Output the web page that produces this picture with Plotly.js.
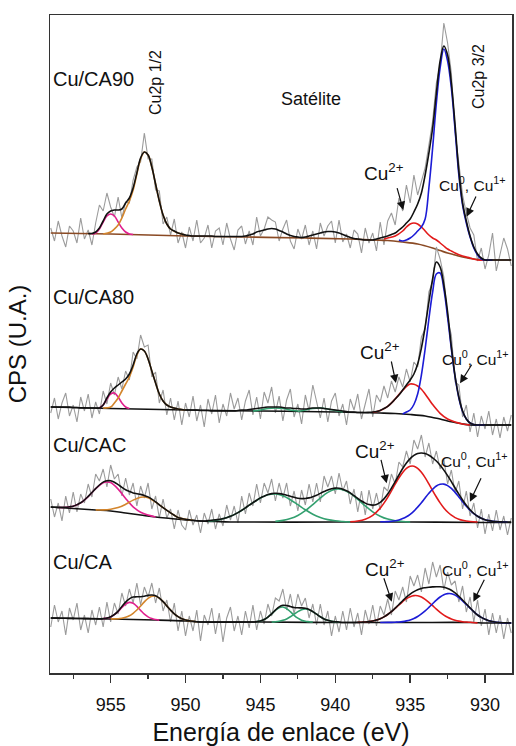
<!DOCTYPE html>
<html><head><meta charset="utf-8">
<script src="https://cdn.plot.ly/plotly-3.0.1.min.js"></script>
<style>html,body{margin:0;padding:0;background:#fff}#chart{width:516px;height:746px}</style>
</head><body><div id="chart"></div>
<script>
// Binding energy grid (eV) for the measured spectra
const energy = [959, 958.75, 958.5, 958.25, 958, 957.75, 957.5, 957.25, 957, 956.75, 956.5, 956.25, 956, 955.75, 955.5, 955.25, 955, 954.75, 954.5, 954.25, 954, 953.75, 953.5, 953.25, 953, 952.75, 952.5, 952.25, 952, 951.75, 951.5, 951.25, 951, 950.75, 950.5, 950.25, 950, 949.75, 949.5, 949.25, 949, 948.75, 948.5, 948.25, 948, 947.75, 947.5, 947.25, 947, 946.75, 946.5, 946.25, 946, 945.75, 945.5, 945.25, 945, 944.75, 944.5, 944.25, 944, 943.75, 943.5, 943.25, 943, 942.75, 942.5, 942.25, 942, 941.75, 941.5, 941.25, 941, 940.75, 940.5, 940.25, 940, 939.75, 939.5, 939.25, 939, 938.75, 938.5, 938.25, 938, 937.75, 937.5, 937.25, 937, 936.75, 936.5, 936.25, 936, 935.75, 935.5, 935.25, 935, 934.75, 934.5, 934.25, 934, 933.75, 933.5, 933.25, 933, 932.75, 932.5, 932.25, 932, 931.75, 931.5, 931.25, 931, 930.75, 930.5, 930.25, 930, 929.75, 929.5, 929.25, 929, 928.75, 928.5, 928.25];

// Measured (noisy) spectra, arbitrary units
const rawCA90 = [5, -8, 12, -3, -14, 7, 2, -10, 15, -6, 3, -12, 10, 28, 22, 40, 26, 16, 36, 15, 31, 30, 53, 66, 71, 100, 74, 74, 43, 42, 9, 16, -2, 14, -10, 1, -15, 6, -8, 13, -10, -5, 8, -15, 2, 5, -12, 10, -6, -17, 3, 7, -11, 2, -12, 16, -3, 4, 16, 13, 11, -8, 4, 13, -8, -16, 4, -6, 8, -12, 2, -16, 10, -3, 7, 12, -10, 13, -9, -1, -15, 3, -1, -20, 5, -10, 0, -18, 11, -12, 12, 20, 8, 35, 22, 48, 30, 58, 38, 52, 65, 88, 112, 150, 168, 210, 190, 160, 100, 70, 38, 20, 5, -2, -28, -15, -36, -22, 0, -38, -20, -5, -16, -33];
const rawCA80 = [-6, 9, -12, 4, 14, -9, 2, -15, 10, -4, 13, -11, 5, -7, 16, 3, 24, 12, 30, 18, 36, 27, 55, 48, 72, 60, 62, 30, 35, 4, 17, -8, 9, -13, 6, -18, 4, -10, 11, -14, 2, -20, 8, -7, 12, -16, 3, -9, 14, -2, 9, -13, 6, 17, -8, 10, -12, 15, 4, 20, -6, 11, -14, 7, 18, -10, 3, -17, 12, -4, 22, 5, -11, 9, -15, 6, 14, -9, 3, -18, 8, -3, 13, -12, 2, 18, -10, 12, 5, 21, 9, 26, 15, 30, 20, 38, 25, 45, 40, 70, 78, 115, 125, 160, 148, 130, 88, 72, 25, 22, -10, 2, -25, -6, -30, -9, -22, -4, -28, -12, -31, -10, -24, -8];
const rawCAC = [8, -10, 4, -14, 11, -6, 15, -5, 13, 4, 23, 10, 33, 26, 38, 20, 42, 28, 33, 11, 29, 12, 24, 1, 21, 9, 24, -2, 11, -11, 8, -11, -2, -22, -3, -18, -23, -3, -18, -8, -26, -6, -17, -2, -22, -7, -19, 2, -13, 1, -16, 11, -7, 14, 1, 23, 4, 24, 14, 28, 6, 24, 9, 24, 1, 16, -4, 17, 2, 23, 5, 24, 5, 31, 20, 31, 13, 34, 16, 26, 3, 18, -5, 16, -8, 17, -2, 14, -3, 20, 16, 33, 23, 45, 40, 56, 43, 67, 58, 72, 50, 64, 43, 56, 38, 48, 23, 37, 14, 26, -2, 16, -9, 4, -21, -2, -27, -7, -24, -3, -23, -9, -28, -11];
const rawCA = [-9, 13, -4, 7, -17, 10, -2, 15, -12, 3, -15, 8, -7, 11, -9, 16, -4, 15, 4, 25, 12, 29, 15, 35, 13, 31, 21, 35, 15, 30, 7, 18, -4, 15, -13, 7, -18, 2, -13, 8, -23, 3, -7, 10, -16, 5, -24, 0, 11, -13, 2, -17, 7, -10, 13, -12, 7, -6, 14, 2, 20, 17, 29, 8, 24, 4, 24, 12, 20, 0, 14, -7, 14, -7, 7, -18, 2, -14, 7, -12, 10, -9, 5, -17, 8, -6, 13, -8, 12, 3, 19, 3, 27, 18, 31, 16, 42, 32, 43, 26, 50, 34, 56, 41, 53, 28, 46, 33, 37, 16, 32, 6, 21, -4, 18, -8, 9, -17, 5, -15, 3, -21, 0, -15];

// Fit envelopes (sum of components) on the same grid
const envCA90 = [null, null, null, null, null, null, null, null, null, null, -0.5, -0.5, 1, 5, 12, 19, 22, 23, 23, 24, 30, 35, 45, 60, 75, 81, 78, 66, 49, 32, 18, 9, 4, 2, 0, -1, -2, -2.5, -3, -3, -3, -3, -3, -3, -3.5, -3.5, -3.5, -3.5, -3.5, -3.5, -3.5, -3.5, -3, -2, -1, 1, 2, 3, 4, 4.5, 4, 2.5, 1, -1, -2.5, -3.5, -4, -4.5, -4, -3, -2, -1, 0, 1, 1.5, 1.5, 1, 0, -1.5, -3, -4.5, -5.5, -6, -6.5, -7, -7, -7, -6, -5, -4, -3, -1.5, 0, 3, 6, 10, 14, 21, 29, 40, 58, 80, 105, 140, 172, 187, 178, 150, 108, 62, 30, 12, -3, -14, -21, -25, -27, -27, -27, -27, -27, -27, -27, -27];
const envCA80 = [0, 0, 0, 0, 0, 0, -0.5, -0.5, -1, -1, -1, -1, -1, -1, 2, 9, 15, 19, 22, 25, 28, 33, 42, 53, 58, 56, 48, 36, 24, 13, 6, 2, 0, -1, -2, -2.5, -3, -3, -3, -3, -3.5, -3.5, -3.5, -4, -4, -4, -4, -4, -4, -4, -3.5, -3, -3, -2.5, -2, -1.5, -1, -0.5, 0, 0, 0, 0, -0.5, -1, -1, -1.5, -1.5, -2, -2, -1.5, -1, -1, -1, -1.5, -2, -2.5, -3, -3.5, -4, -4.5, -5, -5, -5.5, -5.5, -5.5, -5.3, -5, -4.5, -3.5, -1.5, 0.6, 4, 8, 12, 17, 22, 27, 33, 43, 59, 80, 105, 128, 145, 140, 122, 95, 60, 31, 10, -4, -12, -16, -17.5, -18, -18, -18, -18, -18, -18, -18, -18, -18, -18];
const envCAC = [0, -0.3, -0.4, -0.4, -0.3, 0.2, 0.8, 2.3, 4.2, 7, 10.6, 14.5, 18.4, 22, 24.9, 26.2, 26.3, 24.8, 22.3, 19.7, 17.2, 15.5, 14.1, 13.3, 12.6, 11.5, 10.1, 7.8, 5.1, 2.2, -0.7, -3.3, -5.9, -8.3, -10.4, -11.5, -12.3, -12.8, -13.3, -13.7, -14, -14, -13.6, -13.2, -12.9, -12.4, -11.6, -10.7, -9.3, -7.6, -5.6, -3.3, -0.8, 1.8, 4.3, 6.8, 9.1, 10.8, 12.4, 13.4, 13.7, 13.4, 12.8, 11.7, 10.7, 9.7, 8.8, 8.4, 8.5, 9.1, 10.2, 11.7, 13.6, 15.4, 17, 18.2, 18.9, 18.8, 17.8, 16.2, 14.1, 11.3, 8.7, 6, 3.9, 2.4, 1.9, 2.6, 4.7, 8.1, 13, 18.9, 25.3, 32, 38.5, 44.1, 48.4, 51.7, 53.6, 54, 53.5, 51.8, 49.2, 46, 41.8, 36.9, 31.4, 25.4, 19, 12.8, 7, 1.7, -2.8, -6.5, -9.3, -11.3, -12.7, -13.6, -14.2, -14.6, -14.8, -15, -15, -15];
const envCA = [0, -0.1, -0.15, -0.2, -0.3, -0.35, -0.4, -0.45, -0.5, -0.6, -0.65, -0.7, -0.8, -0.85, -0.6, -0.1, 1.2, 3.5, 6.9, 11.5, 15.9, 19.2, 20.9, 21.2, 21.3, 21.8, 22.6, 23, 22.3, 19.9, 16.4, 12.1, 7.9, 4.2, 1.3, -0.7, -1.9, -2.7, -3.3, -3.8, -4, -4, -4, -4, -4, -4, -4, -4, -4, -4, -4, -4, -4, -4, -4, -3.6, -2.9, -1.5, 0.9, 4.1, 7.9, 11.1, 12.7, 12.5, 11.5, 10.5, 10.2, 10.1, 9.7, 8.6, 6.4, 3.8, 1.2, -0.9, -2.3, -3.2, -3.7, -4, -4.5, -4.5, -4.5, -4.5, -4.4, -4.2, -4, -3.6, -3, -2.1, -0.75, 1.1, 3.5, 6.45, 9.9, 13.5, 17.3, 20.9, 23.9, 26.4, 28.3, 29.6, 30.3, 30.8, 31.1, 31.3, 31.2, 30.7, 29.6, 27.8, 25.1, 21.75, 18, 14, 10.1, 6.3, 3, 0.6, -1.3, -2.7, -3.55, -4.2, -4.5, -4.75, -4.9, -5];

// Backgrounds
const bgCA90x = [959, 955, 950, 946, 942, 939, 937.5, 936.5, 935.5, 934.5, 933.5, 933, 932.5, 932, 931.5, 931, 930.5, 930, 929, 928.25];
const bgCA90y = [0, -1, -3, -4, -5, -6, -7, -7.5, -9, -11, -15, -17.5, -20, -22, -24, -25.5, -26.5, -27, -27, -27];
const bgCA80x = [959, 955, 950, 945, 940, 937, 936, 935, 934, 933.5, 933, 932.5, 932, 931.5, 931, 930, 928.25];
const bgCA80y = [0, -1.5, -3, -4, -5, -6, -6.5, -7.5, -9, -10.5, -12, -14, -15.5, -17, -18, -18, -18];
const bgCACx = [959, 958, 957, 956, 955, 954, 953, 952, 951, 950, 949, 948, 947, 940, 935, 930, 928.25];
const bgCACy = [0, -1, -2, -3, -4, -6, -8, -10, -11.5, -13, -14, -14.5, -15, -15, -15, -15.5, -15.5];
const bgCAx = [959, 957, 955, 952, 950, 949, 945, 940, 935, 931, 930, 928.25];
const bgCAy = [0, -0.5, -1, -2, -3, -4, -4, -4.5, -4.5, -4.5, -5, -5];

// Fitted components: Cu/CA90
const ca90PinkX = [956.25, 956, 955.75, 955.5, 955.25, 955, 954.75, 954.5, 954.25, 954, 953.75, 953.5];
const ca90PinkY = [-1, 0, 4, 11, 17, 19, 17, 11, 5, 1, -1, -1.5];
const ca90OrangeX = [955.5, 955, 954.75, 954.5, 954.25, 954, 953.75, 953.5, 953.25, 953, 952.75, 952.5, 952.25, 952, 951.75, 951.5, 951.25, 951, 950.5, 950];
const ca90OrangeY = [-1, 1, 4, 8, 15, 24, 32, 43, 59, 74, 81, 78, 66, 49, 32, 18, 9, 4, 0, -2];
const ca90BlueX = [935.75, 935.5, 935.25, 935, 934.75, 934.5, 934.25, 934, 933.75, 933.5, 933.25, 933, 932.75, 932.5, 932.25, 932, 931.75, 931.5, 931.25, 931, 930.75, 930.5, 930.25, 930, 929.5];
const ca90BlueY = [-7, -8, -7, -5, -2, 2, 6, 14, 45, 85, 130, 165, 184, 172, 145, 103, 58, 28, 10, -4, -15, -22, -26, -27, -27];
const ca90RedX = [936.75, 936.5, 936, 935.5, 935.25, 935, 934.75, 934.5, 934.25, 934, 933.75, 933.5, 933.25, 933, 932.75, 932.5, 932.25, 932, 931.5, 931, 930.5, 930];
const ca90RedY = [-6, -5, -3, 2, 6, 9, 10, 9, 6, 2, -2, -5, -7, -10, -13, -16, -18, -20, -23, -25, -27, -27];

// Cu/CA80
const ca80PinkX = [955.75, 955.5, 955.25, 955, 954.75, 954.5, 954.25, 954, 953.75];
const ca80PinkY = [-1, 2, 8, 13, 14, 10, 4, 0, -1.5];
const ca80OrangeX = [955.5, 955, 954.75, 954.5, 954.25, 954, 953.75, 953.5, 953.25, 953, 952.75, 952.5, 952.25, 952, 951.75, 951.5, 951.25, 951, 950.5, 950];
const ca80OrangeY = [-1, 0, 4, 9, 16, 23, 30, 40, 52, 58, 56, 48, 36, 24, 13, 6, 2, 0, -2, -3];
const ca80Green1X = [945.5, 945, 944.5, 944, 943.5, 943, 942.5];
const ca80Green1Y = [-4, -3, -1.5, -1, -1.5, -3, -4];
const ca80Green2X = [942.5, 942, 941.5, 941, 940.5, 940, 939.5];
const ca80Green2Y = [-4.5, -3, -1.5, -1, -2, -3.5, -5];
const ca80BlueX = [935.5, 935.25, 935, 934.75, 934.5, 934.25, 934, 933.75, 933.5, 933.25, 933, 932.75, 932.5, 932.25, 932, 931.75, 931.5, 931.25, 931, 930.75, 930.5, 930];
const ca80BlueY = [-7, -5, -3, 2.5, 13, 32, 58, 88, 115, 133, 134, 118, 90, 58, 30, 9, -4.5, -12, -16, -17.5, -18, -18];
const ca80RedX = [937.5, 937, 936.5, 936, 935.5, 935, 934.75, 934.5, 934.25, 934, 933.75, 933.5, 933, 932.5, 932, 931.5, 931];
const ca80RedY = [-5.3, -3.5, 0.6, 8, 16.7, 22.9, 22.8, 21, 17.7, 13, 7.7, 2.4, -6.3, -12, -15, -17, -18];

// Cu/CAC
const cacPinkX = [958.5, 958, 957.5, 957, 956.5, 956, 955.5, 955.25, 955, 954.5, 954, 953.5, 953, 952.5, 952];
const cacPinkY = [-0.5, -0.3, 0.8, 4.1, 10.4, 18.3, 24.3, 25, 24.5, 17.9, 8.5, 0.2, -5.2, -8.1, -10];
const cacOrangeX = [956, 955.5, 955, 954.5, 954, 953.5, 953, 952.75, 952.5, 952, 951.5, 951, 950.5, 950, 949.5];
const cacOrangeY = [-2.9, -2.9, -2.2, -0.6, 2.7, 6.9, 9.8, 10, 9.2, 4.9, -0.7, -5.9, -10.4, -12.3, -13.3];
const cacGreen1X = [948.5, 948, 947.5, 947, 946.5, 946, 945.5, 945, 944.5, 944, 943.5, 943, 942.5, 942, 941.5, 941, 940.5, 940, 939.5, 939];
const cacGreen1Y = [-14, -13.4, -11.8, -9.3, -5.6, -0.8, 4.3, 9, 12.2, 13, 11.2, 7.3, 2.3, -2.8, -7.2, -10.4, -12.6, -13.8, -14.5, -15];
const cacGreen2X = [944, 943.5, 943, 942.5, 942, 941.5, 941, 940.5, 940, 939.5, 939, 938.5, 938, 937.5, 937, 936.5, 936, 935.5, 935];
const cacGreen2Y = [-14.4, -13.4, -11.6, -8.5, -3.7, 2.4, 9, 14.6, 17.7, 17.3, 13.6, 7.7, 1.1, -4.8, -9.2, -12.1, -13.7, -14.5, -15];
const cacRedX = [939, 938.5, 938, 937.5, 937, 936.75, 936.5, 936.25, 936, 935.75, 935.5, 935.25, 935, 934.75, 934.5, 934.25, 934, 933.75, 933.5, 933.25, 933, 932.75, 932.5, 932.25, 932, 931.75, 931.5, 931, 930.5];
const cacRedY = [-14.7, -14, -12.2, -8.3, -1.1, 3.9, 9.7, 16.2, 22.8, 29.1, 34.6, 38.6, 40.7, 40.8, 38.7, 34.7, 29.4, 23.1, 16.4, 10, 4.1, -1, -5, -8.2, -10.6, -12.2, -13.3, -14.5, -15];
const cacBlueX = [937, 936.5, 936, 935.75, 935.5, 935.25, 935, 934.75, 934.5, 934.25, 934, 933.75, 933.5, 933.25, 933, 932.75, 932.5, 932.25, 932, 931.75, 931.5, 931.25, 931, 930.75, 930.5, 930.25, 930, 929.75, 929.5, 929, 928.5];
const cacBlueY = [-14.8, -14.6, -13.8, -12.9, -11.6, -9.8, -7.3, -4.1, -0.1, 4.3, 9.1, 13.7, 17.8, 21, 22.7, 22.9, 21.4, 18.6, 14.6, 10, 5.3, 0.7, -3.3, -6.7, -9.3, -11.3, -12.7, -13.6, -14.2, -14.8, -15];

// Cu/CA
const caPinkX = [955.5, 955.25, 955, 954.75, 954.5, 954.25, 954, 953.75, 953.5, 953.25, 953, 952.75, 952.5, 952.25, 952, 951.75];
const caPinkY = [-0.6, -0.1, 1.1, 3.3, 6.5, 10.45, 13.9, 15.6, 14.7, 11.6, 7.6, 3.85, 1.1, -0.6, -1.5, -2.1];
const caOrangeX = [955, 954.5, 954.25, 954, 953.75, 953.5, 953.25, 953, 952.75, 952.5, 952.25, 952, 951.75, 951.5, 951.25, 951, 950.75, 950.5, 950.25, 950, 949.75, 949.5, 949.25];
const caOrangeY = [-0.9, -0.8, -0.25, 0.7, 2.2, 4.7, 8, 12, 16.15, 19.7, 21.7, 21.8, 19.9, 16.4, 12.1, 7.9, 4.2, 1.3, -0.7, -1.9, -2.7, -3.3, -3.8];
const caGreen1X = [945.25, 945, 944.75, 944.5, 944.25, 944, 943.75, 943.5, 943.25, 943, 942.75, 942.5, 942.25, 942, 941.75, 941.5];
const caGreen1Y = [-3.6, -2.9, -1.5, 0.9, 4.1, 7.6, 10.3, 11, 9.4, 6.3, 2.7, -0.2, -2.2, -3.3, -3.7, -4];
const caGreen2X = [944.25, 944, 943.75, 943.5, 943.25, 943, 942.75, 942.5, 942.25, 942, 941.75, 941.5, 941.25, 941, 940.75, 940.5, 940.25, 940, 939.75];
const caGreen2Y = [-4, -3.7, -3.2, -2.3, -0.9, 1.2, 3.8, 6.4, 8.3, 9, 8.3, 6.4, 3.8, 1.2, -0.9, -2.3, -3.2, -3.7, -4];
const caRedX = [938.5, 938, 937.5, 937.25, 937, 936.75, 936.5, 936.25, 936, 935.75, 935.5, 935.25, 935, 934.75, 934.5, 934.25, 934, 933.75, 933.5, 933.25, 933, 932.75, 932.5, 932.25, 932, 931.75, 931.5, 931, 930.5];
const caRedY = [-4.4, -4, -3, -2.1, -0.75, 1.1, 3.5, 6.3, 9.6, 13, 16.4, 19.3, 21.3, 22.4, 22.3, 21, 18.7, 15.7, 12.3, 8.9, 5.7, 2.9, 0.7, -1, -2.3, -3.15, -3.7, -4.3, -5];
const caBlueX = [937, 936.5, 936.25, 936, 935.75, 935.5, 935.25, 935, 934.75, 934.5, 934.25, 934, 933.75, 933.5, 933.25, 933, 932.75, 932.5, 932.25, 932, 931.75, 931.5, 931.25, 931, 930.75, 930.5, 930.25, 930, 929.75, 929.5, 929.25, 929, 928.5, 928.25];
const caBlueY = [-4.5, -4.4, -4.35, -4.2, -4, -3.6, -2.9, -1.9, -0.5, 1.5, 4.1, 7.1, 10.6, 14.3, 17.9, 21, 23.3, 24.4, 24.3, 22.9, 20.4, 17.2, 13.6, 9.9, 6.3, 3, 0.6, -1.3, -2.7, -3.55, -4.2, -4.5, -4.9, -5];

// Sample names and stacking
const sampleNames = ['Cu/CA90', 'Cu/CA80', 'Cu/CAC', 'Cu/CA'];
const offsets = [440, 266, 166, 55];

const C = {gray:'#9b9b9b', black:'#111111', blue:'#1c1cd6', red:'#e21b1b', pink:'#e0208e', orange:'#d3852c', green:'#33a06f', brown:'#8a4a24'};
const traces = [];
function shift(arr, off){ return arr.map(v => v === null ? null : v + off); }
function smooth(x, y, off, color, w){
  traces.push({x:x, y:shift(y, off), type:'scatter', mode:'lines', hoverinfo:'skip',
    line:{color:color, width:w||1.6, shape:'spline', smoothing:1}});
}
function raw(y, off){
  traces.push({x:energy, y:shift(y, off), type:'scatter', mode:'lines', hoverinfo:'skip',
    line:{color:C.gray, width:1.1}});
}

// Cu/CA90
raw(rawCA90, offsets[0]);
smooth(bgCA90x, bgCA90y, offsets[0], C.brown);
smooth(ca90PinkX, ca90PinkY, offsets[0], C.pink);
smooth(ca90OrangeX, ca90OrangeY, offsets[0], C.orange);
smooth(ca90RedX, ca90RedY, offsets[0], C.red);
smooth(ca90BlueX, ca90BlueY, offsets[0], C.blue);
smooth(energy, envCA90, offsets[0], C.black);
// Cu/CA80
raw(rawCA80, offsets[1]);
smooth(bgCA80x, bgCA80y, offsets[1], C.black);
smooth(ca80PinkX, ca80PinkY, offsets[1], C.pink);
smooth(ca80OrangeX, ca80OrangeY, offsets[1], C.orange);
smooth(ca80Green1X, ca80Green1Y, offsets[1], C.green);
smooth(ca80Green2X, ca80Green2Y, offsets[1], C.green);
smooth(ca80RedX, ca80RedY, offsets[1], C.red);
smooth(ca80BlueX, ca80BlueY, offsets[1], C.blue);
smooth(energy, envCA80, offsets[1], C.black);
// Cu/CAC
raw(rawCAC, offsets[2]);
smooth(bgCACx, bgCACy, offsets[2], C.black);
smooth(cacPinkX, cacPinkY, offsets[2], C.pink);
smooth(cacOrangeX, cacOrangeY, offsets[2], C.orange);
smooth(cacGreen1X, cacGreen1Y, offsets[2], C.green);
smooth(cacGreen2X, cacGreen2Y, offsets[2], C.green);
smooth(cacRedX, cacRedY, offsets[2], C.red);
smooth(cacBlueX, cacBlueY, offsets[2], C.blue);
smooth(energy, envCAC, offsets[2], C.black);
// Cu/CA
raw(rawCA, offsets[3]);
smooth(bgCAx, bgCAy, offsets[3], C.black);
smooth(caPinkX, caPinkY, offsets[3], C.pink);
smooth(caOrangeX, caOrangeY, offsets[3], C.orange);
smooth(caGreen1X, caGreen1Y, offsets[3], C.green);
smooth(caGreen2X, caGreen2Y, offsets[3], C.green);
smooth(caRedX, caRedY, offsets[3], C.red);
smooth(caBlueX, caBlueY, offsets[3], C.blue);
smooth(energy, envCA, offsets[3], C.black);

const FONT = 'Liberation Sans, Arial, sans-serif';
const ann = [];
// sample labels
const labelY = [594, 376, 228, 111];
sampleNames.forEach((n, i) => ann.push({x:958.98, y:labelY[i], xref:'x', yref:'y', text:n, showarrow:false,
  xanchor:'left', yanchor:'middle', font:{family:FONT, size:20, color:'#111'}}));
ann.push({x:952.04, y:591, xref:'x', yref:'y', text:'Cu2p 1/2', textangle:-90, showarrow:false, font:{family:FONT, size:16, color:'#111'}});
ann.push({x:930.47, y:596, xref:'x', yref:'y', text:'Cu2p 3/2', textangle:-90, showarrow:false, font:{family:FONT, size:16, color:'#111'}});
ann.push({x:941.62, y:574, xref:'x', yref:'y', text:'Satélite', showarrow:false, font:{family:FONT, size:18, color:'#111'}});
// species labels
const cu2Pos = [[938.22, 501], [938.48, 322], [938.82, 223], [938.15, 105]];
const cu01Pos = [[933.2, 489], [933.0, 315], [933.05, 213], [933.0, 104]];
cu2Pos.forEach(p => ann.push({x:p[0], y:p[1], xref:'x', yref:'y', text:'Cu<sup>2+</sup>', showarrow:false,
  xanchor:'left', yanchor:'middle', font:{family:FONT, size:19, color:'#111'}}));
cu01Pos.forEach(p => ann.push({x:p[0], y:p[1], xref:'x', yref:'y', text:'Cu<sup>0</sup>, Cu<sup>1+</sup>', showarrow:false,
  xanchor:'left', yanchor:'middle', font:{family:FONT, size:15.5, color:'#111'}}));
// arrows [tailX, tailY, headX, headY]
const arrows = [
  [935.90, 486.3, 935.46, 463], [930.56, 478, 931.23, 456.3],
  [936.28, 313, 935.95, 290], [930.83, 309.7, 931.67, 289.7],
  [936.97, 214.7, 936.57, 189.7], [930.22, 196.3, 931.01, 171.3],
  [936.79, 96.3, 936.23, 71.3], [930.00, 94.7, 930.78, 71.3]
];
arrows.forEach(a => ann.push({x:a[2], y:a[3], ax:a[0], ay:a[1], xref:'x', yref:'y', axref:'x', ayref:'y',
  text:'', showarrow:true, arrowhead:2, arrowsize:1.4, arrowwidth:1.2, arrowcolor:'#111'}));

const layout = {
  width:516, height:746, margin:{l:50, r:4, t:15, b:73},
  paper_bgcolor:'#fff', plot_bgcolor:'#fff', showlegend:false,
  font:{family:FONT, color:'#111'},
  xaxis:{range:[959.05, 928.2], showgrid:false, zeroline:false, showline:true, mirror:true,
    linecolor:'#333', linewidth:1.5, ticks:'outside', ticklen:8, tickwidth:1.5, tickcolor:'#333',
    tickmode:'array', tickvals:[955, 950, 945, 940, 935, 930], ticktext:['955','950','945','940','935','930'],
    ticklabelstandoff:7,
    tickfont:{family:FONT, size:18, color:'#111'},
    minor:{tickvals:[957.5, 952.5, 947.5, 942.5, 937.5, 932.5], ticks:'outside', ticklen:4, tickwidth:1.2, tickcolor:'#333'},
    title:{text:'Energía de enlace (eV)', font:{family:FONT, size:25, color:'#111'}, standoff:12}},
  yaxis:{range:[0, 658], showgrid:false, zeroline:false, showline:true, mirror:true,
    linecolor:'#333', linewidth:1.5, ticks:'', showticklabels:false,
    title:{text:'CPS (U.A.)', font:{family:FONT, size:24, color:'#111'}, standoff:15}},
  annotations:ann
};
Plotly.newPlot('chart', traces, layout, {displayModeBar:false, staticPlot:true});
</script></body></html>
